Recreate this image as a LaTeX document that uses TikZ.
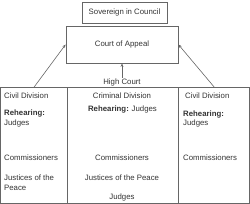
\documentclass[tikz,border=0pt]{standalone}
\usepackage{fontspec}
\setmainfont{Liberation Sans}
\usetikzlibrary{arrows.meta}
\begin{document}
\begin{tikzpicture}[x=1pt,y=-1pt,
  box/.style={draw=black!60,line width=0.8pt,inner sep=0pt},
  lbl/.style={inner sep=0pt,text=black!80,font=\fontsize{7.8}{9}\selectfont},
  lblL/.style={lbl,anchor=west,align=left},
  conn/.style={draw=black!60,line width=0.6pt,-{Stealth[length=3.5pt,width=2.8pt]}}]
\useasboundingbox (0,0) rectangle (250,204);
\node[box,minimum width=85pt,minimum height=21pt] (sov) at (124.5,12.5) {};
\node[lbl] (sovt) at (sov.center) {Sovereign in Council};
\node[box,minimum width=112pt,minimum height=37pt] (coa) at (122,44.5) {};
\node[lbl] (coat) at (coa.center) {Court of Appeal};
\node[box,anchor=north west,minimum width=66.5pt,minimum height=116pt] (civl) at (0.5,87) {};
\node[box,anchor=north west,minimum width=111pt,minimum height=116pt] (crim) at (67,87) {};
\node[box,anchor=north west,minimum width=71.5pt,minimum height=116pt] (civr) at (178,87) {};
\node[lbl] (hc) at (122,82) {High Court};
\draw[conn] (civl.north) -- (coa.west);
\draw[conn] (civr.north) -- (coa.east);
\draw[conn] (hc.north) -- (coa.south);
% left column
\node[lblL] (l1) at (4,95.7) {Civil Division};
\node[lblL] (l2) at (4,113) {\textbf{Rehearing:}};
\node[lblL] (l3) at (4,123) {Judges};
\node[lblL] (l4) at (4,157.7) {Commissioners};
\node[lblL] (l5) at (4,178) {Justices of the};
\node[lblL] (l6) at (4,188) {Peace};
% middle column
\node[lbl] (m1) at (122,95.7) {Criminal Division};
\node[lbl] (m2) at (122.5,109) {\textbf{Rehearing:} Judges};
\node[lbl] (m3) at (122,157.7) {Commissioners};
\node[lbl] (m4) at (122,177.5) {Justices of the Peace};
\node[lbl] (m5) at (122,197.7) {Judges};
% right column
\node[lblL] (r1) at (185,95.7) {Civil Division};
\node[lblL] (r2) at (183,114) {\textbf{Rehearing:}};
\node[lblL] (r3) at (183,123) {Judges};
\node[lblL] (r4) at (183,157.7) {Commissioners};
\end{tikzpicture}
\end{document}
